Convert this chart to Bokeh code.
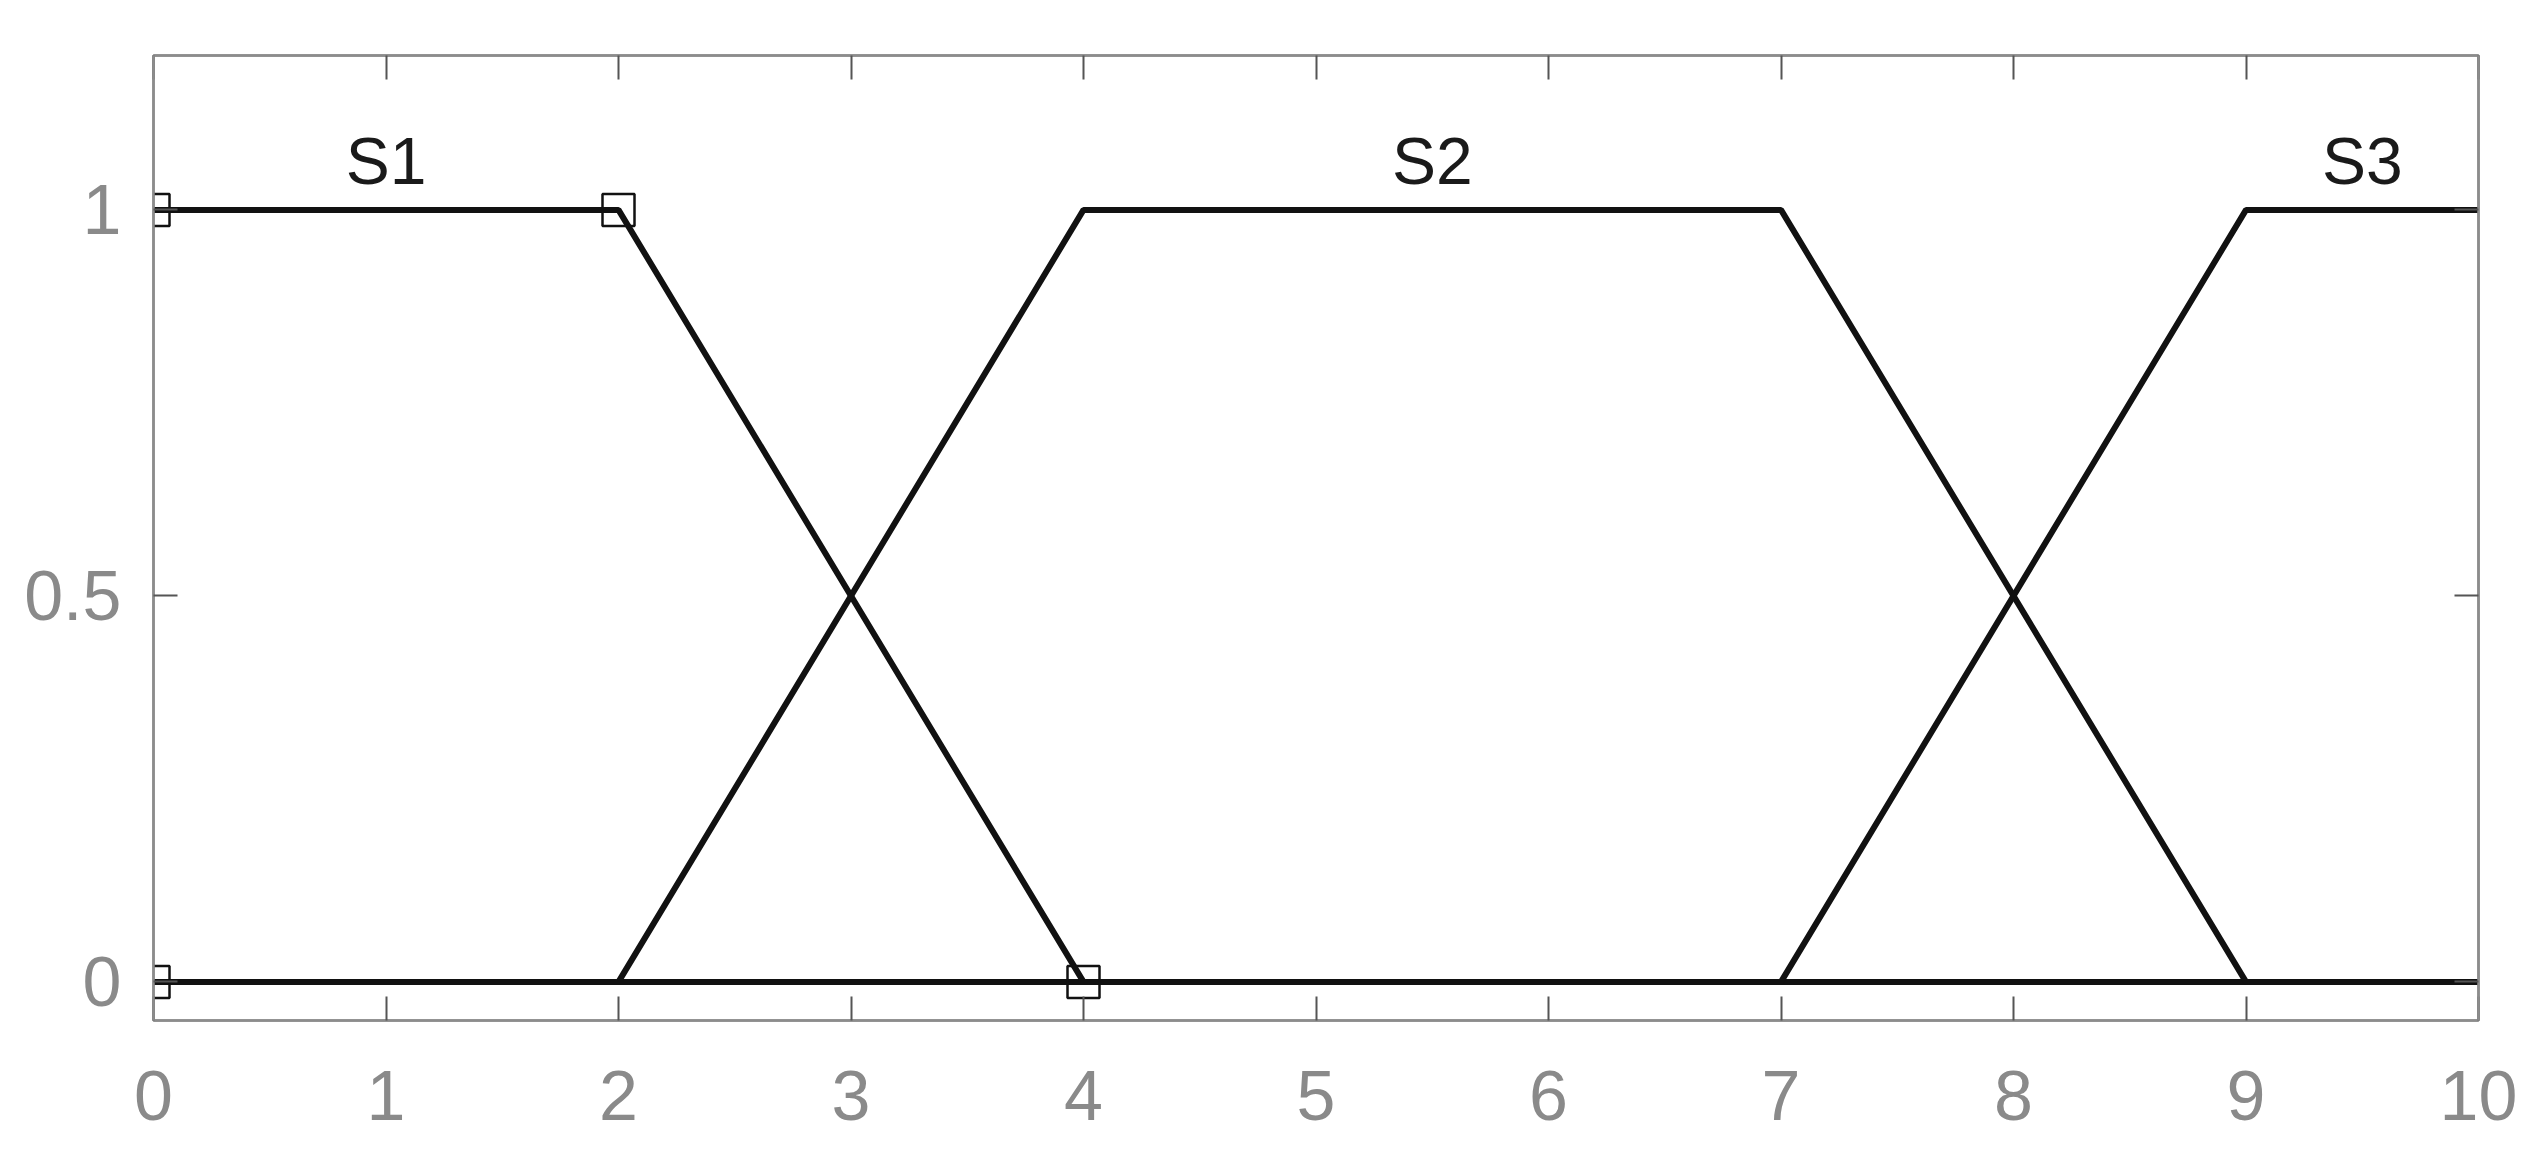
from bokeh.plotting import figure
from bokeh.models import Range1d, FixedTicker, LinearAxis, ColumnDataSource
from bokeh.core.properties import value
from bokeh.embed import file_html
from bokeh.resources import INLINE

# ---- data ----
s1_x = [0, 2, 4, 10]
s1_y = [1, 1, 0, 0]
s2_x = [0, 2, 4, 7, 9, 10]
s2_y = [0, 0, 1, 1, 0, 0]
s3_x = [0, 7, 9, 10]
s3_y = [0, 0, 1, 1]
marker_x = [0, 2, 0, 4]
marker_y = [1, 1, 0, 0]
label_text = ["S1", "S2", "S3"]
label_x = [1, 5.5, 9.5]
label_y = [1.063, 1.063, 1.063]
x_ticks = [0, 1, 2, 3, 4, 5, 6, 7, 8, 9, 10]
y_ticks = [0, 0.5, 1]
y_tick_labels = ["0", "0.5", "1"]

FONT = "Liberation Sans"
FRAME = "#8c8c8c"
TICKLAB = "#8a8a8a"

p = figure(width=2529, height=1142, output_backend="svg", toolbar_location=None,
           x_range=Range1d(0, 10), y_range=Range1d(-0.05, 1.2),
           min_border_left=153, min_border_top=55, min_border_right=51,
           min_border_bottom=122)
p.xgrid.visible = False
p.ygrid.visible = False
p.outline_line_color = FRAME
p.outline_line_width = 2.5
p.background_fill_color = "white"
p.border_fill_color = "white"

p.xaxis.ticker = FixedTicker(ticks=x_ticks)
p.yaxis.ticker = FixedTicker(ticks=y_ticks)
p.yaxis.major_label_overrides = {t: l for t, l in zip(y_ticks, y_tick_labels)}
p.xaxis.major_label_overrides = {t: str(t) for t in x_ticks}

for ax in (p.xaxis[0], p.yaxis[0]):
    ax.axis_line_color = FRAME
    ax.axis_line_width = 2.5
    ax.major_tick_in = 24
    ax.major_tick_out = 0
    ax.minor_tick_in = 0
    ax.minor_tick_out = 0
    ax.major_tick_line_color = "#555555"
    ax.major_tick_line_width = 2
    ax.major_label_text_font = FONT
    ax.major_label_text_font_size = "70px"
    ax.major_label_text_color = TICKLAB
p.xaxis.major_label_standoff = 50
p.yaxis.major_label_standoff = 32

top_ax = LinearAxis(ticker=FixedTicker(ticks=x_ticks))
right_ax = LinearAxis(ticker=FixedTicker(ticks=y_ticks))
for ax in (top_ax, right_ax):
    ax.axis_line_color = FRAME
    ax.axis_line_width = 2.5
    ax.major_tick_in = 24
    ax.major_tick_out = 0
    ax.minor_tick_in = 0
    ax.minor_tick_out = 0
    ax.major_tick_line_color = "#555555"
    ax.major_tick_line_width = 2
    ax.major_label_text_color = None
    ax.major_label_standoff = 0
p.add_layout(top_ax, "above")
p.add_layout(right_ax, "right")

LW = 6
LC = "#111111"
p.line(s1_x, s1_y, line_width=LW, line_color=LC)
p.line(s2_x, s2_y, line_width=LW, line_color=LC)
p.line(s3_x, s3_y, line_width=LW, line_color=LC)

p.scatter(marker_x, marker_y, marker="square", size=32, fill_color=None,
          line_color="#111111", line_width=2.5)

src = ColumnDataSource(dict(x=label_x, y=label_y, t=label_text))
p.text(x="x", y="y", text="t", source=src, text_align="center",
       text_baseline="alphabetic", text_font=value(FONT),
       text_font_size="66px", text_color="#1a1a1a")

open("out.html", "w").write(file_html(p, INLINE))
